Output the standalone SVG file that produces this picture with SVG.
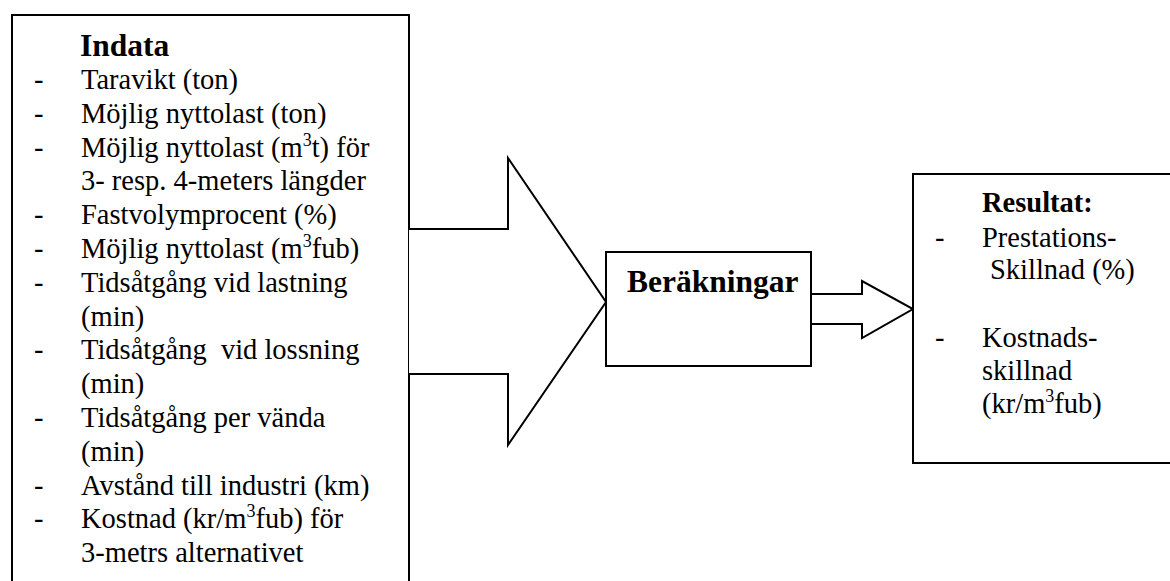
<svg xmlns="http://www.w3.org/2000/svg" width="1170" height="581" viewBox="0 0 1170 581">
<style>
.box{fill:#fff;stroke:#000;stroke-width:2}
.arr{fill:#fff;stroke:#000;stroke-width:2;stroke-linejoin:miter}
.t{font-family:"Liberation Serif","Times New Roman",serif;font-size:28.5px;fill:#000}
.b{font-family:"Liberation Serif","Times New Roman",serif;font-weight:bold;fill:#000}
.sup{font-size:18px}
</style>
<rect width="1170" height="581" fill="#fff"/>
<g id="indata">
<rect class="box" x="12" y="15" width="397" height="580"/>
<text class="b" x="80" y="56" font-size="31.5">Indata</text>
<g class="t">
<text x="34" y="89">-</text><text x="81" y="89">Taravikt (ton)</text>
<text x="34" y="122.8">-</text><text x="81" y="122.8">Möjlig nyttolast (ton)</text>
<text x="34" y="156.6">-</text><text x="81" y="156.6">Möjlig nyttolast (m<tspan class="sup" dy="-11">3</tspan><tspan dy="11">t) för</tspan></text>
<text x="81" y="190.4">3- resp. 4-meters längder</text>
<text x="34" y="224.2">-</text><text x="81" y="224.2">Fastvolymprocent (%)</text>
<text x="34" y="258">-</text><text x="81" y="258">Möjlig nyttolast (m<tspan class="sup" dy="-11">3</tspan><tspan dy="11">fub)</tspan></text>
<text x="34" y="291.8">-</text><text x="81" y="291.8">Tidsåtgång vid lastning</text>
<text x="81" y="325.6">(min)</text>
<text x="34" y="359.4">-</text><text x="81" y="359.4" xml:space="preserve">Tidsåtgång  vid lossning</text>
<text x="81" y="393.2">(min)</text>
<text x="34" y="427">-</text><text x="81" y="427">Tidsåtgång per vända</text>
<text x="81" y="460.8">(min)</text>
<text x="34" y="494.6">-</text><text x="81" y="494.6">Avstånd till industri (km)</text>
<text x="34" y="528.4">-</text><text x="81" y="528.4">Kostnad (kr/m<tspan class="sup" dy="-11">3</tspan><tspan dy="11">fub) för</tspan></text>
<text x="81" y="562.2">3-metrs alternativet</text>
</g>
</g>
<g id="connectors">
<polyline class="arr" points="409,229 508,229 508,158 606,302 508,445 508,374 409,374"/>
<polyline class="arr" points="811,294 862,294 862,281 913,309 862,338 862,324 811,324"/>
</g>
<g id="berakningar">
<rect class="box" x="606" y="252" width="205" height="114"/>
<text class="b" x="627" y="292" font-size="31.5">Beräkningar</text>
</g>
<g id="resultat">
<rect class="box" x="913" y="174" width="260" height="289"/>
<text class="b" x="982" y="212" font-size="28.5">Resultat:</text>
<g class="t">
<text x="935" y="247">-</text><text x="982" y="247">Prestations-</text>
<text x="990" y="279">Skillnad (%)</text>
<text x="935" y="347">-</text><text x="982" y="347">Kostnads-</text>
<text x="982" y="380">skillnad</text>
<text x="982" y="413">(kr/m<tspan class="sup" dy="-11">3</tspan><tspan dy="11">fub)</tspan></text>
</g>
</g>
</svg>
